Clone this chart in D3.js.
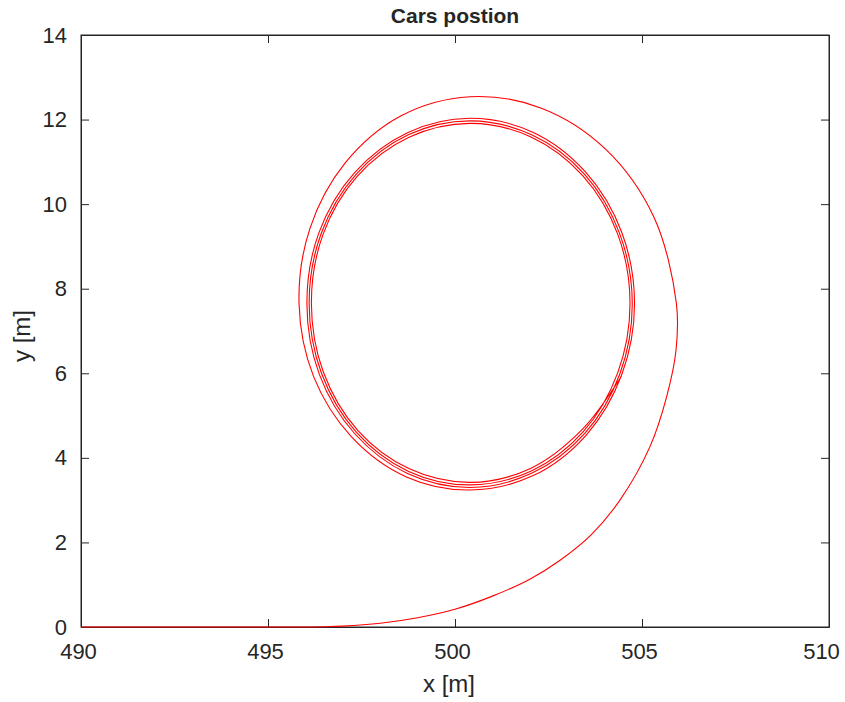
<!DOCTYPE html>
<html>
<head>
<meta charset="utf-8">
<script src="https://cdn.jsdelivr.net/npm/d3@7"></script>
<style>
  body { margin: 0; background: #fff; }
  text { font-family: "Liberation Sans", Arial, sans-serif; fill: #262626; }
</style>
</head>
<body>
<div id="chart"></div>
<script>
// Car trajectory (x, y in metres)
const trackX = [
  490, 494, 496, 496.5, 497.0, 498.0, 499.0, 500.0, 501.0, 502.0, 502.81, 503.64,
  504.41, 505.21, 505.66, 505.91, 505.92, 505.32, 504.04, 502.31, 500.40, 498.56,
  497.07, 496.12, 495.83, 496.22, 497.24, 498.70,
  500.40, 502.09, 503.51, 504.46, 504.80, 504.46, 503.50, 502.08,
  500.40, 498.73, 497.31, 496.36, 496.04, 496.37, 497.32, 498.73,
  500.40, 502.06, 503.47, 504.41, 504.74, 504.40, 503.46, 502.05,
  500.40, 498.75, 497.35, 496.42, 496.10, 496.43, 497.36, 498.76,
  500.40, 502.04, 503.43, 504.35, 504.68, 504.35, 503.42, 502.03,
  500.40, 498.77, 497.39, 496.47, 496.16, 496.48, 497.40, 498.78,
  500.40, 502.02, 503.39, 504.45
];
const trackY = [
  0, 0, 0, 0.005, 0.02, 0.09, 0.22, 0.42, 0.73, 1.13, 1.58, 2.18,
  3.00, 4.26, 5.45, 6.55, 7.65, 9.69, 11.29, 12.27, 12.54, 12.09,
  10.98, 9.42, 7.65, 5.92, 4.49, 3.55,
  3.24, 3.58, 4.54, 5.97, 7.65, 9.33, 10.75, 11.70,
  12.03, 11.69, 10.74, 9.32, 7.65, 5.98, 4.57, 3.63,
  3.30, 3.64, 4.58, 5.99, 7.65, 9.31, 10.71, 11.64,
  11.97, 11.64, 10.70, 9.30, 7.65, 6.00, 4.61, 3.68,
  3.36, 3.69, 4.62, 6.01, 7.65, 9.29, 10.67, 11.59,
  11.91, 11.58, 10.66, 9.28, 7.65, 6.03, 4.65, 3.74,
  3.42, 3.75, 4.66, 5.93
];
const xTicks = [490, 495, 500, 505, 510];
const yTicks = [0, 2, 4, 6, 8, 10, 12, 14];

const width = 845;
const height = 702;
const margin = { top: 35, right: 16, bottom: 75, left: 81 };
const plotW = width - margin.left - margin.right;
const plotH = height - margin.top - margin.bottom;

const svg = d3.select('#chart')
  .append('svg')
  .attr('width', width)
  .attr('height', height);

const x = d3.scaleLinear().domain([490, 510]).range([margin.left, margin.left + plotW]);
const y = d3.scaleLinear().domain([0, 14]).range([margin.top + plotH, margin.top]);

const tickLen = 8;
const axisColor = '#262626';

// Box around the plot
svg.append('rect')
  .attr('x', margin.left)
  .attr('y', margin.top)
  .attr('width', plotW)
  .attr('height', plotH)
  .attr('fill', 'none')
  .attr('stroke', axisColor)
  .attr('stroke-width', 1);

// Axes (ticks pointing inward, on all four sides)
const fmt = d3.format('d');
const bottomAxis = svg.append('g')
  .attr('transform', `translate(0,${y(0)})`)
  .call(d3.axisBottom(x).tickValues(xTicks).tickFormat(fmt).tickSizeInner(-tickLen).tickSizeOuter(0).tickPadding(16));
const topAxis = svg.append('g')
  .attr('transform', `translate(0,${y(14)})`)
  .call(d3.axisTop(x).tickValues(xTicks).tickFormat('').tickSizeInner(-tickLen).tickSizeOuter(0));
const leftAxis = svg.append('g')
  .attr('transform', `translate(${x(490)},0)`)
  .call(d3.axisLeft(y).tickValues(yTicks).tickFormat(fmt).tickSizeInner(-tickLen).tickSizeOuter(0).tickPadding(14));
const rightAxis = svg.append('g')
  .attr('transform', `translate(${x(510)},0)`)
  .call(d3.axisRight(y).tickValues(yTicks).tickFormat('').tickSizeInner(-tickLen).tickSizeOuter(0));

[bottomAxis, topAxis, leftAxis, rightAxis].forEach(g => {
  g.select('.domain').attr('stroke', axisColor);
  g.selectAll('.tick line').attr('stroke', axisColor);
  g.selectAll('.tick text')
    .attr('fill', axisColor)
    .attr('font-size', '22px')
    .attr('font-family', '"Liberation Sans", Arial, sans-serif');
});
// labels sit slightly left of their ticks; the last one is pulled inside the figure
bottomAxis.selectAll('.tick text').attr('dx', d => d === 510 ? -8 : -3);

// Trajectory
const points = trackX.map((v, i) => [v, trackY[i]]);
const line = d3.line()
  .x(d => x(d[0]))
  .y(d => y(d[1]))
  .curve(d3.curveCatmullRom.alpha(0.5));

svg.append('path')
  .datum(points)
  .attr('d', line)
  .attr('fill', 'none')
  .attr('stroke', '#ff0000')
  .attr('stroke-width', 1.1);

// Title and axis labels
svg.append('text')
  .attr('x', margin.left + plotW / 2)
  .attr('y', 23)
  .attr('text-anchor', 'middle')
  .attr('font-size', '21px')
  .attr('font-weight', 'bold')
  .attr('fill', '#000')
  .text('Cars postion');

svg.append('text')
  .attr('x', 449)
  .attr('y', 692)
  .attr('text-anchor', 'middle')
  .attr('font-size', '24px')
  .text('x [m]');

svg.append('text')
  .attr('transform', 'translate(30,336) rotate(-90)')
  .attr('text-anchor', 'middle')
  .attr('font-size', '24px')
  .text('y [m]');
</script>
</body>
</html>
